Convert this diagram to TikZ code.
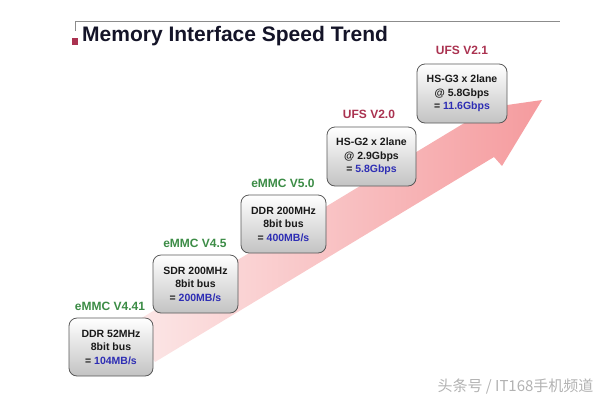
\documentclass[tikz,border=0pt]{standalone}
\usepackage{fontspec}
\setmainfont{Liberation Sans}
\newfontfamily\cjkfont{Noto Sans CJK SC}
\definecolor{titleblue}{RGB}{20,20,40}
\definecolor{emmcgreen}{RGB}{60,140,70}
\definecolor{ufsred}{RGB}{170,50,80}
\definecolor{rateblue}{RGB}{45,45,180}
\definecolor{arrowpink}{RGB}{245,155,158}
\definecolor{arrowfade}{RGB}{252,232,232}
\definecolor{boxgray}{RGB}{195,195,195}
\tikzstyle{spd}=[rectangle,rounded corners=8pt,draw=black!65,line width=.8pt,top color=white,bottom color=boxgray,minimum width=85pt,minimum height=58pt,align=center,inner sep=1pt,font=\fontsize{10.5}{13.5}\selectfont\bfseries,text=black!90]
\tikzstyle{emmc}=[font=\fontsize{12}{14}\selectfont\bfseries,text=emmcgreen]
\tikzstyle{ufs}=[font=\fontsize{12}{14}\selectfont\bfseries,text=ufsred]
\newcommand{\rate}[1]{= \textcolor{rateblue}{#1}}

\begin{document}
\begin{tikzpicture}[x=1pt,y=-1pt]
\useasboundingbox (0,0) rectangle (600,400);
% title
\draw[black!45,line width=.8pt] (75,31) -- (75,21) -- (560,21);
\fill[ufsred] (72,38) rectangle (78,45);
\node[anchor=base west,inner sep=0pt,font=\fontsize{21}{25}\selectfont\bfseries,text=titleblue] (title) at (82,41) {Memory Interface Speed Trend};
% arrow
\shade[left color=arrowfade,right color=arrowpink] (130,325) -- (466,122) -- (458,112) -- (542,100) -- (502,166) -- (494,157) -- (155,362) -- cycle;
% boxes
\node[spd,minimum width=84pt] (b1) at (111,347) {DDR 52MHz\\8bit bus\\\rate{104MB/s}};
\node[spd] (b2) at (195.5,284) {SDR 200MHz\\8bit bus\\\rate{200MB/s}};
\node[spd] (b3) at (283.5,224) {DDR 200MHz\\8bit bus\\\rate{400MB/s}};
\node[spd,minimum width=89pt,minimum height=59pt] (b4) at (371.5,156.5) {HS-G2 x 2lane\\@ 2.9Gbps\\\rate{5.8Gbps}};
\node[spd,minimum width=90pt,minimum height=59pt] (b5) at (462,93.5) {HS-G3 x 2lane\\@ 5.8Gbps\\\rate{11.6Gbps}};
% labels
\node[emmc] (l1) at (110,306) {eMMC V4.41};
\node[emmc] (l2) at (195,243) {eMMC V4.5};
\node[emmc] (l3) at (283,183) {eMMC V5.0};
\node[ufs] (l4) at (369,114) {UFS V2.0};
\node[ufs] (l5) at (462,50) {UFS V2.1};
% watermark
\node[anchor=east,text=black!30,font=\cjkfont\fontsize{15}{17}\selectfont] (wm) at (597,387) {头条号 / IT168手机频道};
\end{tikzpicture}
\end{document}
